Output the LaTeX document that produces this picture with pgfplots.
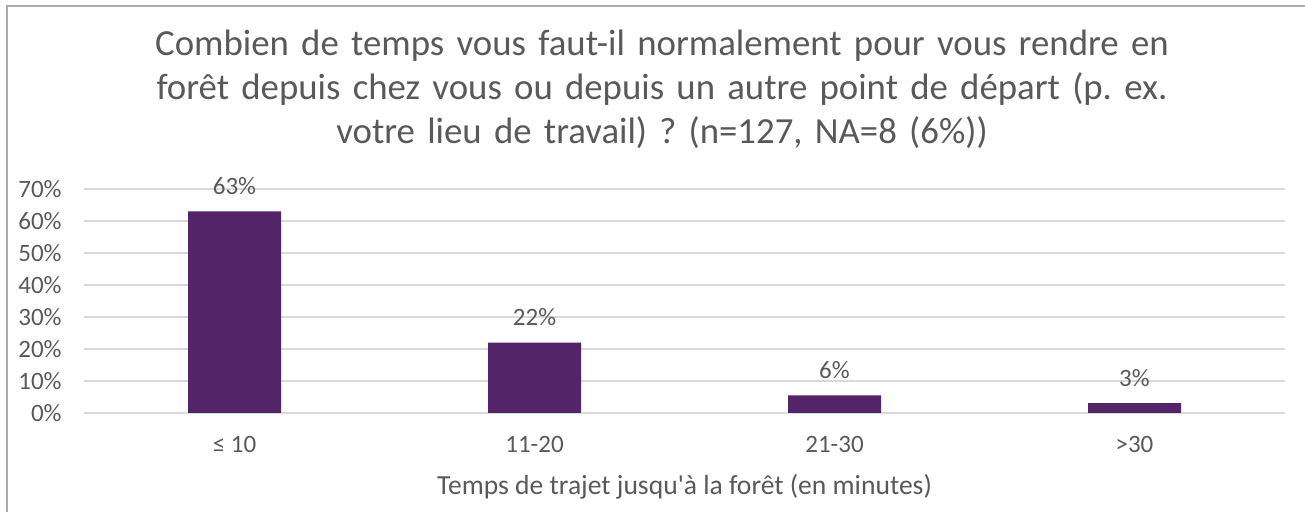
\documentclass[border=0pt]{standalone}
\usepackage{pgfplots}
\pgfplotsset{compat=1.18}
\usepackage{fontspec}
\setmainfont{Carlito}
\frenchspacing
\definecolor{barc}{HTML}{532468}
\definecolor{txt}{HTML}{595959}
\definecolor{gridc}{HTML}{D9D9D9}
\definecolor{brd}{HTML}{ABABAB}
\begin{document}
\begin{tikzpicture}
\useasboundingbox (0,0) rectangle (652.5pt,256pt);
\draw[brd, line width=0.8pt] (3.5pt,0) -- (3.5pt,252.9pt) -- (652.5pt,252.9pt);
\node[txt, font=\fontsize{18.4pt}{22pt}\selectfont, align=center, text width=640pt, inner sep=0pt] at (331pt,211.5pt)
 {Combien de temps vous faut-il normalement pour vous rendre en\\forêt depuis chez vous ou depuis un autre point de départ (p. ex.\\votre lieu de travail) ? (n=127, NA=8 (6\%))};
\begin{axis}[
  at={(42.25pt,49.5pt)}, anchor=south west,
  width=600pt, height=112pt, scale only axis,
  xmin=-0.5, xmax=3.5, ymin=0, ymax=70,
  axis line style={draw=none},
  major tick length=0pt,
  ytick={0,10,20,30,40,50,60,70},
  yticklabels={0\%,10\%,20\%,30\%,40\%,50\%,60\%,70\%},
  xtick={0,1,2,3},
  xticklabels={≤ 10,11-20,21-30,>30},
  ymajorgrids, grid style={gridc, line width=0.8pt},
  tick label style={txt, font=\fontsize{12.5pt}{14pt}\selectfont},
  yticklabel style={anchor=east, inner sep=0pt, xshift=-11.25pt},
  xticklabel style={anchor=base, inner sep=0pt, yshift=-20pt},
  xlabel={Temps de trajet jusqu\textquotesingle à la forêt (en minutes)},
  xlabel style={txt, font=\fontsize{13.8pt}{16pt}\selectfont, anchor=base, inner sep=0pt, at={(axis description cs:0.5,0)}, yshift=-41pt},
  ybar, bar width=46.5pt,
  nodes near coords,
  point meta=explicit symbolic,
  nodes near coords style={txt, font=\fontsize{12.5pt}{14pt}\selectfont, anchor=base, inner sep=0pt, yshift=8.5pt},
]
\addplot[fill=barc, draw=none] coordinates {(0,63.0) [63\%] (1,22.0) [22\%] (2,5.5) [6\%] (3,3.1) [3\%]};
\end{axis}
\end{tikzpicture}
\end{document}
